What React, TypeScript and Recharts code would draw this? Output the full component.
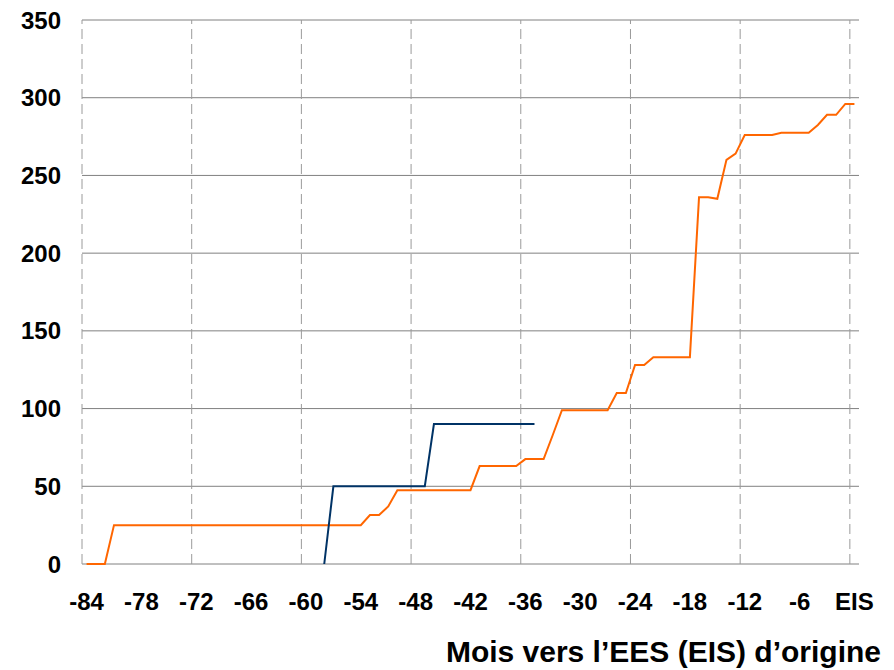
import { LineChart, Line, XAxis, YAxis, CartesianGrid, ReferenceLine } from 'recharts';

// months before the original EIS (0 = EIS)
const months = [
  -84, -83, -82, -81, -80, -79, -78, -77, -76, -75, -74, -73, -72, -71, -70, -69, -68,
  -67, -66, -65, -64, -63, -62, -61, -60, -59, -58, -57, -56, -55, -54, -53, -52, -51,
  -50, -49, -48, -47, -46, -45, -44, -43, -42, -41, -40, -39, -38, -37, -36, -35, -34,
  -33, -32, -31, -30, -29, -28, -27, -26, -25, -24, -23, -22, -21, -20, -19, -18, -17,
  -16, -15, -14, -13, -12, -11, -10, -9, -8, -7, -6, -5, -4, -3, -2, -1, 0
];

// orange series, one value per month
const orangeValues = [
  0, 0, 0, 25, 25, 25, 25, 25, 25, 25, 25, 25, 25, 25, 25, 25, 25,
  25, 25, 25, 25, 25, 25, 25, 25, 25, 25, 25, 25, 25, 25, 31.5, 31.5, 37,
  47.5, 47.5, 47.5, 47.5, 47.5, 47.5, 47.5, 47.5, 47.5, 63, 63, 63, 63, 63, 67.5, 67.5, 67.5,
  83, 99, 99, 99, 99, 99, 99, 110, 110, 128, 128, 133, 133, 133, 133, 133, 236,
  236, 235, 260, 264, 276, 276, 276, 276, 277.5, 277.5, 277.5, 277.5, 282.5, 289, 289, 296, 296
];

// blue series, shorter
const blueMonths = [-58, -57, -56, -55, -54, -53, -52, -51, -50, -49, -48, -47, -46, -45, -44, -43, -42, -41, -40, -39, -38, -37, -36, -35];
const blueValues = [0, 50, 50, 50, 50, 50, 50, 50, 50, 50, 50, 50, 90, 90, 90, 90, 90, 90, 90, 90, 90, 90, 90, 90];

const xTicks = [-84, -78, -72, -66, -60, -54, -48, -42, -36, -30, -24, -18, -12, -6, 0];
const yTicks = [0, 50, 100, 150, 200, 250, 300, 350];
// dashed verticals sit between categories, every 12 months
const gridMonths = [-84.5, -72.5, -60.5, -48.5, -36.5, -24.5, -12.5, -0.5];

const data = months.map((m, i) => {
  const b = blueMonths.indexOf(m);
  return { m, orange: orangeValues[i], blue: b >= 0 ? blueValues[b] : null };
});

const font = '"Liberation Sans", Arial, sans-serif';

const AxisTitle = (props: any) => {
  const vb = props.viewBox || {};
  return (
    <text
      x={vb.x + vb.width + 22}
      y={662}
      textAnchor="end"
      fontFamily={font}
      fontWeight="bold"
      fontSize={30}
      fill="#000"
    >
      Mois vers l’EES (EIS) d’origine
    </text>
  );
};

export default function App() {
  return (
    <div style={{ position: 'absolute', left: 0, top: 0, width: 894, height: 670, overflow: 'hidden', background: '#fff' }}>
      <LineChart
        width={894}
        height={670}
        data={data}
        margin={{ top: 20, right: 35, left: 0, bottom: 56 }}
      >
        <CartesianGrid vertical={false} stroke="#808080" strokeWidth={1} />
        {gridMonths.map((g) => (
          <ReferenceLine key={g} x={g} stroke="#9a9a9a" strokeDasharray="10 5" strokeWidth={1} />
        ))}
        <XAxis
          dataKey="m"
          type="number"
          domain={[-84.5, 0.5]}
          ticks={xTicks}
          interval={0}
          tickFormatter={(v: number) => (v === 0 ? 'EIS' : String(v))}
          axisLine={false}
          tickLine={false}
          tickMargin={23}
          height={50}
          tick={{ fill: '#000', fontSize: 24, fontWeight: 'bold', fontFamily: font }}
          label={<AxisTitle />}
        />
        <YAxis
          type="number"
          domain={[0, 350]}
          ticks={yTicks}
          interval={0}
          axisLine={false}
          tickLine={false}
          tickMargin={15}
          width={82}
          tick={{ fill: '#000', fontSize: 24, fontWeight: 'bold', fontFamily: font }}
        />
        <Line
          type="linear"
          dataKey="orange"
          stroke="#ff6600"
          strokeWidth={2}
          dot={false}
          isAnimationActive={false}
        />
        <Line
          type="linear"
          dataKey="blue"
          stroke="#003366"
          strokeWidth={2}
          dot={false}
          isAnimationActive={false}
        />
      </LineChart>
    </div>
  );
}
